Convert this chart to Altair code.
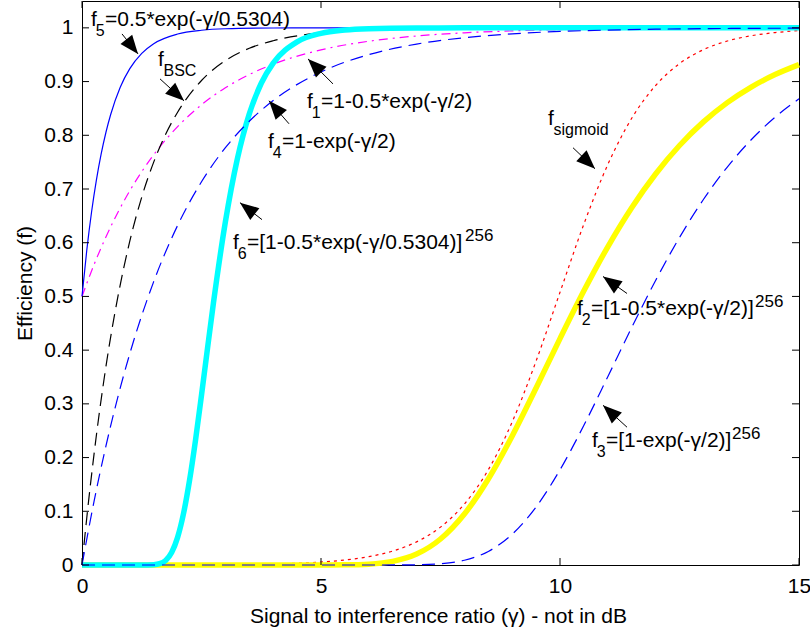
import math
import altair as alt
import pandas as pd

# ---- curve samples: gamma (signal to interference ratio) and efficiency ----
f5_g = [0, 0.1, 0.2, 0.3, 0.4, 0.5, 0.6, 0.8, 1, 1.25, 1.5, 2, 2.5, 3, 4, 5, 15]
f5_v = [0.5, 0.5859, 0.6571, 0.7160, 0.7648, 0.8052, 0.8387, 0.8894, 0.9241,
        0.9526, 0.9705, 0.9885, 0.9955, 0.9983, 0.9997, 1.0, 1.0]

bsc_g = [0, 0.1, 0.25, 0.5, 0.75, 1, 1.25, 1.5, 1.75, 2, 2.5, 3, 3.5, 4, 5, 6, 7, 8, 10, 15]
bsc_v = [0.0, 0.088, 0.205, 0.369, 0.499, 0.603, 0.685, 0.750, 0.802, 0.843,
         0.902, 0.939, 0.962, 0.976, 0.991, 0.9965, 0.9987, 0.9995, 1.0, 1.0]

f1_g = [0, 0.25, 0.5, 0.75, 1, 1.5, 2, 2.5, 3, 3.5, 4, 5, 6, 7, 8, 9, 10, 12, 15]
f1_v = [0.5, 0.5588, 0.6106, 0.6564, 0.6967, 0.7638, 0.8161, 0.8568, 0.8884,
        0.9131, 0.9323, 0.9590, 0.9751, 0.9849, 0.9908, 0.9944, 0.9966, 0.9988, 0.9997]

f4_g = [0, 0.25, 0.5, 0.75, 1, 1.5, 2, 2.5, 3, 3.5, 4, 5, 6, 7, 8, 9, 10, 11, 12, 13, 14, 15]
f4_v = [0.0, 0.1175, 0.2212, 0.3127, 0.3935, 0.5276, 0.6321, 0.7135, 0.7769,
        0.8262, 0.8647, 0.9179, 0.9502, 0.9698, 0.9817, 0.9889, 0.9933, 0.9959,
        0.9975, 0.9985, 0.9991, 0.9994]

f6_g = [0, 1, 1.25, 1.5, 1.625, 1.75, 1.875, 2, 2.125, 2.25, 2.375, 2.5, 2.625,
        2.75, 3, 3.25, 3.5, 3.75, 4, 4.5, 5, 5.5, 6, 7, 8, 10, 15]
f6_v = [0.0, 0.0, 0.0, 0.0005, 0.0024, 0.0085, 0.0233, 0.0515, 0.0963, 0.1577,
        0.2326, 0.3163, 0.4029, 0.4878, 0.6390, 0.7562, 0.8400, 0.8969, 0.9343,
        0.9739, 0.9898, 0.9960, 0.9984, 0.9998, 1.0, 1.0, 1.0]

f2_g = [0, 4, 5, 5.5, 6, 6.5, 7, 7.5, 8, 8.5, 9, 9.5, 10, 10.5, 11, 11.5, 12,
        12.5, 13, 13.5, 14, 14.5, 15]
f2_v = [0.0, 0.0, 0.0, 0.0003, 0.0016, 0.0067, 0.0203, 0.0484, 0.0949, 0.1601,
        0.2403, 0.3296, 0.4215, 0.5104, 0.5924, 0.6652, 0.7280, 0.7810, 0.8249,
        0.8608, 0.8898, 0.9131, 0.9316]

f3_g = [0, 6, 7, 7.5, 8, 8.5, 9, 9.5, 10, 10.5, 11, 11.5, 12, 12.5, 13, 13.5,
        14, 14.5, 15]
f3_v = [0.0, 0.0, 0.0004, 0.0023, 0.0088, 0.0253, 0.0573, 0.1081, 0.1772,
        0.2601, 0.3505, 0.4421, 0.5297, 0.6098, 0.6804, 0.7409, 0.7917, 0.8337, 0.8679]

sig_g = [0, 2, 4, 5, 5.5, 6, 6.5, 7, 7.5, 8, 8.5, 9, 9.5, 10, 10.5, 11, 11.5,
         12, 12.5, 13, 13.5, 14, 14.5, 15]
sig_v = [0.0, 0.0002, 0.0020, 0.0055, 0.0093, 0.0156, 0.0260, 0.0431, 0.0705,
         0.1134, 0.1773, 0.2664, 0.3797, 0.5077, 0.6348, 0.7455, 0.8316, 0.8927,
         0.9334, 0.9594, 0.9755, 0.9853, 0.9912, 0.9948]

# ---- axis ticks ----
x_ticks = [0, 5, 10, 15]
y_ticks = [0, 0.1, 0.2, 0.3, 0.4, 0.5, 0.6, 0.7, 0.8, 0.9, 1.0]

# ---- annotation arrows: tail (gamma, f) -> tip (gamma, f) ----
arrow_tail_g = [0.837, 1.632, 5.251, 4.331, 3.766, 10.272, 11.402, 11.402]
arrow_tail_f = [0.9887, 0.9050, 0.8957, 0.8214, 0.6430, 0.7768, 0.5055, 0.2565]
arrow_tip_g = [1.172, 2.134, 4.728, 3.912, 3.305, 10.732, 10.900, 10.900]
arrow_tip_f = [0.9515, 0.8642, 0.9422, 0.8642, 0.6746, 0.7378, 0.5371, 0.2973]

# ---- annotation texts: base letter, subscript, remainder, superscript ----
main_text = ["f", "f", "f", "f", "f", "f", "f", "f",
             "=0.5*exp(-γ/0.5304)", "=1-0.5*exp(-γ/2)", "=1-exp(-γ/2)",
             "=[1-0.5*exp(-γ/0.5304)]", "=[1-0.5*exp(-γ/2)]", "=[1-exp(-γ/2)]"]
main_g = [0.188, 1.590, 4.707, 3.891, 3.159, 9.749, 10.356, 10.669,
          0.481, 5.000, 4.184, 3.452, 10.649, 10.962]
main_f = [1.0035, 0.9292, 0.8511, 0.7768, 0.5891, 0.8191, 0.4646, 0.2193,
          1.0035, 0.8511, 0.7768, 0.5891, 0.4646, 0.2193]

sub_text = ["5", "BSC", "1", "4", "6", "sigmoid", "2", "3"]
sub_g = [0.287, 1.705, 4.805, 3.990, 3.257, 9.864, 10.454, 10.768]
sub_f = [0.9850, 0.9106, 0.8325, 0.7582, 0.5705, 0.8005, 0.4460, 0.2007]

sup_text = ["256", "256", "256"]
sup_g = [8.013, 14.079, 13.598]
sup_f = [0.6040, 0.4795, 0.2342]

# ---- layout ----
W, H = 717, 564
X_MAX, Y_MAX = 15, 1.05
FONT = "Liberation Sans"

x_axis = alt.Axis(values=x_ticks, format="d", title="Signal to interference ratio (γ) - not in dB",
                  labelFontSize=21, labelFont=FONT, labelColor="black", labelFlush=False,
                  labelBaseline="alphabetic", labelPadding=27,
                  titleFontSize=21, titleFont=FONT, titleFontWeight="normal", titleColor="black",
                  titleBaseline="alphabetic", titleX=356, titleY=57, titleAlign="center")
y_axis = alt.Axis(values=y_ticks, format=".1~f", title="Efficiency (f)",
                  labelFontSize=21, labelFont=FONT, labelColor="black", labelPadding=9,
                  labelFlush=False,
                  titleFontSize=21, titleFont=FONT, titleFontWeight="normal", titleColor="black",
                  titleAngle=270, titleBaseline="alphabetic", titleX=-51, titleY=282,
                  titleAlign="center")
x_scale = alt.Scale(domain=[0, X_MAX], nice=False, zero=False)
y_scale = alt.Scale(domain=[0, Y_MAX], nice=False, zero=False)


def xe(field):
    return alt.X(f"{field}:Q", scale=x_scale, axis=x_axis)


def ye(field):
    return alt.Y(f"{field}:Q", scale=y_scale, axis=y_axis)


def curve(g, v, color, width, dash=None):
    df = pd.DataFrame({"gamma": g, "f": v})
    kw = dict(color=color, strokeWidth=width, interpolate="monotone", clip=False)
    if dash:
        kw["strokeDash"] = dash
    return alt.Chart(df).mark_line(**kw).encode(x=xe("gamma"), y=ye("f"))


dash_long = [13, 7]
layers = [
    curve(sig_g, sig_v, "#ff0000", 1.2, [3, 4]),
    curve(f1_g, f1_v, "#ff00ff", 1.2, [9, 5, 2, 5]),
    curve(bsc_g, bsc_v, "#000000", 1.2, dash_long),
    curve(f5_g, f5_v, "#0000ff", 1.2),
    curve(f2_g, f2_v, "#ffff00", 5.5),
    curve(f6_g, f6_v, "#00ffff", 5.5),
    curve(f3_g, f3_v, "#0000ff", 1.2, dash_long),
    curve(f4_g, f4_v, "#0000ff", 1.2, dash_long),
]

# arrows: shaft plus filled head rotated along the shaft direction
px_x, px_y = W / X_MAX, H / Y_MAX
angles = []
for tg, tf, hg, hf in zip(arrow_tail_g, arrow_tail_f, arrow_tip_g, arrow_tip_f):
    dx = (hg - tg) * px_x
    dy = -(hf - tf) * px_y
    angles.append(math.degrees(math.atan2(dx, -dy)) % 360)
arrows = pd.DataFrame({"g0": arrow_tail_g, "f0": arrow_tail_f,
                       "g1": arrow_tip_g, "f1": arrow_tip_f, "angle": angles})
layers.append(alt.Chart(arrows).mark_rule(color="black", strokeWidth=1).encode(
    x=xe("g0"), y=ye("f0"), x2=alt.X2("g1"), y2=alt.Y2("f1")))
layers.append(alt.Chart(arrows).mark_point(
    shape="M0,0L-0.4,1L0.4,1Z", filled=True, color="black", opacity=1,
    size=1400, strokeWidth=0).encode(
    x=xe("g1"), y=ye("f1"), angle=alt.Angle("angle:Q", scale=None)))


def text_layer(texts, g, v, size):
    df = pd.DataFrame({"t": texts, "gamma": g, "f": v})
    return alt.Chart(df).mark_text(align="left", baseline="alphabetic", font=FONT,
                                   fontSize=size, color="black").encode(
        x=xe("gamma"), y=ye("f"), text="t:N")


layers.append(text_layer(main_text, main_g, main_f, 21))
layers.append(text_layer(sub_text, sub_g, sub_f, 16))
layers.append(text_layer(sup_text, sup_g, sup_f, 17))

# inward tick marks on all four sides of the box
xt = pd.DataFrame({"v": x_ticks})
yt = pd.DataFrame({"v": y_ticks})
TL = 7
layers.append(alt.Chart(xt).mark_rule(color="black").encode(
    x=xe("v"), y=alt.value(H), y2=alt.value(H - TL)))
layers.append(alt.Chart(xt).mark_rule(color="black").encode(
    x=xe("v"), y=alt.value(0), y2=alt.value(TL)))
layers.append(alt.Chart(yt).mark_rule(color="black").encode(
    y=ye("v"), x=alt.value(0), x2=alt.value(TL)))
layers.append(alt.Chart(yt).mark_rule(color="black").encode(
    y=ye("v"), x=alt.value(W), x2=alt.value(W - TL)))

chart = alt.layer(*layers).properties(
    width=W, height=H,
    padding={"left": 82, "top": 1, "right": 11, "bottom": 69},
    autosize=alt.AutoSizeParams(type="none"),
    background="white",
).configure_view(stroke="black", strokeWidth=1).configure_axis(
    grid=False, domain=False, ticks=False, tickSize=0)

chart.save("out.html", embed_options={"renderer": "svg", "actions": False})
